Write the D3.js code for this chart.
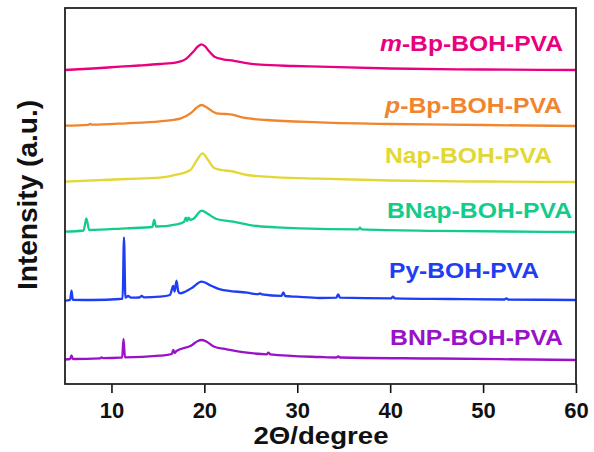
<!DOCTYPE html>
<html><head><meta charset="utf-8">
<script src="https://cdn.jsdelivr.net/npm/d3@7/dist/d3.min.js"></script>
<style>body{margin:0;background:#fff}svg{display:block}text{font-family:"Liberation Sans",Arial,sans-serif;font-weight:bold}</style>
</head><body><svg id="c" width="594" height="452"></svg>
<script>
// 2θ (degree) vs relative intensity (a.u.) above each trace's own baseline
const mBp = [[5,0],[8,1.5],[10.9,3.3],[13,4.5],[15.2,6],[17,7.7],[18.1,11.7],[18.8,18.3],[19.3,23.5],[19.7,25.7],[20.1,23.5],[20.4,20],[21.1,13.3],[22,10.7],[23.1,9.3],[24.2,7.3],[26,5.3],[29.6,4],[32.4,3.3],[40,1.5],[50,0.5],[60,0]];
const pBp = [[5,0.3],[7.5,1.2],[7.7,2.2],[7.9,1.3],[11.6,2.7],[15.2,4.7],[17.4,7.3],[18.6,13.3],[19.2,18.5],[19.7,21],[20.1,19.5],[20.4,17.7],[21.3,12.7],[22.3,12],[22.8,11.7],[24.2,8.3],[26.7,6],[32.4,3.7],[40,2],[50,1],[60,0]];
const nap = [[5,0.3],[11.6,3],[15.2,4.3],[17,7.3],[18.5,12],[19.2,22],[19.8,28.7],[20.4,22],[21.1,13.7],[22.2,11.5],[22.8,11],[24.6,7],[27.8,4.7],[32.4,3.3],[40,1.5],[50,0.5],[60,0]];
const bnap = [[5,0.3],[7.0,1.5],[7.3,13.7],[7.6,2],[11.6,3.7],[14.4,5],[14.6,12],[14.8,5.5],[17,7.7],[17.8,10],[18.0,14.3],[18.15,11],[18.3,14.3],[18.5,12],[18.8,13],[19.7,21.3],[20.4,18],[21.3,13],[23.1,10.3],[25.3,6.3],[27.8,4.7],[30.3,3.7],[36.6,2.7],[36.75,4.3],[36.9,2.7],[45,1.2],[60,0]];
const py = [[5,0],[5.55,0.8],[5.7,10],[5.85,0.8],[8,0.7],[10.9,1.7],[11.2,2],[11.35,63.4],[11.5,3],[11.8,4.7],[12.1,3],[13.0,3.2],[13.25,4.7],[13.5,3.3],[15.2,4],[16.3,5.7],[16.65,14.7],[16.8,9],[17.0,20],[17.2,9],[17.4,7.4],[18.6,12.4],[19.7,19],[20.8,14.7],[21.7,11.4],[24.6,8],[25.8,6.5],[26,7.4],[26.2,6.3],[28.3,4.8],[28.5,8.4],[28.7,4.7],[29.9,4],[32.4,2.7],[34.2,3],[34.4,6.4],[34.6,3],[40.1,2.4],[40.3,4],[40.5,2.4],[46.4,1.7],[52.3,1.2],[52.5,2.4],[52.7,1.2],[60,0.7]];
const bnp = [[5,0],[5.55,0.5],[5.7,4],[5.85,0.5],[8.8,1.2],[8.95,2.2],[9.1,1.3],[10.9,1.8],[11.15,2],[11.3,20.5],[11.45,2.2],[15.2,3.8],[16.5,5.5],[16.65,9.5],[16.8,6.5],[17,8.5],[18.6,14],[19.3,18.5],[19.7,19.5],[20.2,18],[21,13],[22.4,10.2],[24.6,6.8],[26.7,5.2],[26.9,6.8],[27.1,5.2],[32.4,2.5],[34.2,2],[34.4,3],[34.6,2],[45,1],[60,-0.5]];

const seriesData = [mBp, pBp, nap, bnap, py, bnp];
const seriesOffsets = [314, 258, 202, 152, 83.3, 24.5];
const seriesColors = ["#e8007f", "#f0852d", "#e2d734", "#14cc8a", "#1f3df3", "#9a12c8"];
const seriesNames = [["m","-Bp-BOH-PVA"],["p","-Bp-BOH-PVA"],["","Nap-BOH-PVA"],["","BNap-BOH-PVA"],["","Py-BOH-PVA"],["","BNP-BOH-PVA"]];
const labelX = [380, 385, 385, 387, 389, 390];
const labelY = [51, 112.5, 163, 218, 278, 345];
const labelW = [183, 177, 167, 185, 150, 173];
const xTicks = [10, 20, 30, 40, 50, 60];
const xMinor = [6,8,12,14,16,18,22,24,26,28,32,34,36,38,42,44,46,48,52,54,56,58];
const xTitle = "2Θ/degree";
const yTitle = "Intensity (a.u.)";

const L = 65, R = 576, T = 8, B = 384;
const svg = d3.select("#c");
const x = d3.scaleLinear().domain([5, 60]).range([L, R]);
const y = d3.scaleLinear().domain([0, 376]).range([B, T]);

const line = d3.line().curve(d3.curveMonotoneX);
seriesData.forEach((d, i) => {
  svg.append("path")
    .attr("d", line(d.map(p => [x(p[0]), y(seriesOffsets[i] + p[1])])))
    .attr("fill", "none").attr("stroke", seriesColors[i])
    .attr("stroke-width", 2.3).attr("stroke-linejoin", "round");
  const t = svg.append("text").attr("x", labelX[i]).attr("y", labelY[i])
    .attr("fill", seriesColors[i]).attr("font-size", 22)
    .attr("textLength", labelW[i]).attr("lengthAdjust", "spacingAndGlyphs");
  if (seriesNames[i][0]) t.append("tspan").attr("font-style", "italic").text(seriesNames[i][0]);
  t.append("tspan").text(seriesNames[i][1]);
});

// bottom axis
const gx = svg.append("g").attr("transform", `translate(0,${B})`);
gx.call(d3.axisBottom(x).tickValues(xMinor).tickSize(5).tickFormat(""));
gx.call(d3.axisBottom(x).tickValues(xTicks).tickSize(9).tickFormat(d3.format("d")).tickPadding(4));
gx.selectAll(".domain").remove();
gx.selectAll("line").attr("stroke", "#111").attr("stroke-width", 1.6);
gx.selectAll("text").attr("font-size", 22).attr("fill", "#111").attr("dy", null).attr("y", 34);

// frame
svg.append("rect").attr("x", L).attr("y", T).attr("width", R - L).attr("height", B - T)
  .attr("fill", "none").attr("stroke", "#222").attr("stroke-width", 1.8);

svg.append("text").attr("x", (L + R) / 2 - 67).attr("y", 444).attr("font-size", 24)
  .attr("fill", "#111").attr("textLength", 135).attr("lengthAdjust", "spacingAndGlyphs").text(xTitle);
svg.append("text").attr("transform", "translate(37,195) rotate(-90)").attr("text-anchor", "middle")
  .attr("font-size", 27).attr("fill", "#111").attr("textLength", 190).attr("lengthAdjust", "spacingAndGlyphs").text(yTitle);
</script></body></html>
